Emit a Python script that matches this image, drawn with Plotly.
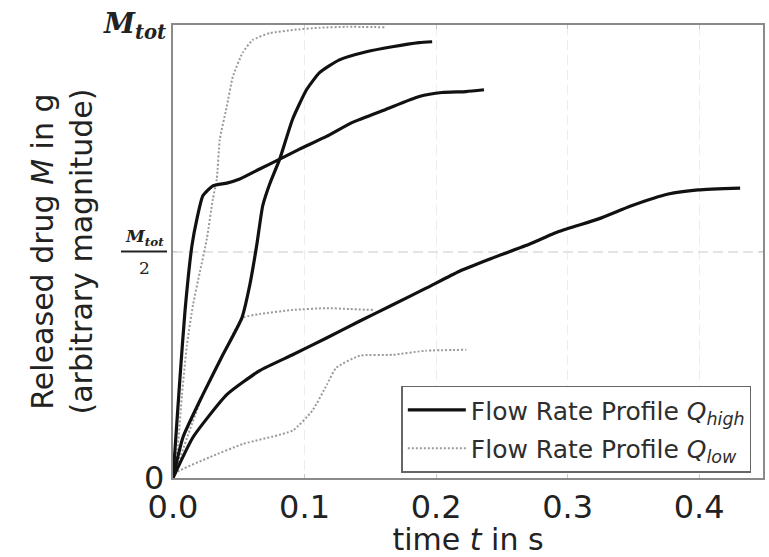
import plotly.graph_objects as go

# ---- data (t in s, M as fraction of M_tot) ----
high_a_t = [0, 0.0053, 0.0091, 0.0144, 0.0182, 0.0227, 0.0303, 0.0409, 0.0508, 0.0659, 0.0811,
            0.0962, 0.1167, 0.1364, 0.1621, 0.1871, 0.2045, 0.2227, 0.2364]
high_a_m = [0, 0.221, 0.368, 0.513, 0.572, 0.623, 0.645, 0.651, 0.660, 0.682, 0.704,
            0.726, 0.754, 0.785, 0.814, 0.842, 0.851, 0.853, 0.857]

high_b_t = [0, 0.0076, 0.0227, 0.0379, 0.0523, 0.0583, 0.0636, 0.0682, 0.0735, 0.0811, 0.0909,
            0.1015, 0.1114, 0.1265, 0.1470, 0.1667, 0.1871, 0.1970]
high_b_m = [0, 0.090, 0.184, 0.272, 0.353, 0.425, 0.513, 0.601, 0.649, 0.704, 0.792,
            0.857, 0.895, 0.923, 0.941, 0.952, 0.961, 0.963]

high_c_t = [0, 0.0152, 0.0409, 0.0659, 0.0909, 0.1167, 0.1417, 0.1667, 0.1924, 0.2174, 0.2424,
            0.2682, 0.2932, 0.3235, 0.3485, 0.3765, 0.3992, 0.4311]
high_c_m = [0, 0.090, 0.184, 0.237, 0.272, 0.309, 0.346, 0.382, 0.419, 0.456, 0.485,
            0.513, 0.544, 0.572, 0.601, 0.627, 0.636, 0.640]

low_a_t = [0, 0.0038, 0.0068, 0.0106, 0.0152, 0.0205, 0.0258, 0.0303, 0.0333, 0.0356, 0.0409,
           0.0455, 0.0530, 0.0606, 0.0735, 0.0909, 0.1114, 0.1318, 0.1621]
low_a_m = [0, 0.075, 0.184, 0.294, 0.382, 0.456, 0.529, 0.616, 0.660, 0.748, 0.820,
           0.886, 0.939, 0.967, 0.982, 0.989, 0.994, 0.996, 0.995]

low_b_t = [0, 0.0227, 0.0379, 0.0530, 0.0660, 0.0910, 0.1170, 0.1340, 0.1520]
low_b_m = [0, 0.184, 0.272, 0.353, 0.362, 0.371, 0.375, 0.373, 0.371]

low_c_t = [0, 0.003, 0.028, 0.053, 0.091, 0.106, 0.117, 0.124, 0.142, 0.167, 0.192, 0.223]
low_c_m = [0, 0.013, 0.046, 0.075, 0.105, 0.149, 0.206, 0.243, 0.270, 0.272, 0.281, 0.283]

x_ticks = [0.0, 0.1, 0.2, 0.3, 0.4]
x_tick_labels = ["0.0", "0.1", "0.2", "0.3", "0.4"]
y_ticks = [0, 0.5, 1]

FONT = "DejaVu Sans"
SERIF = "DejaVu Serif"
HIGH_NAME = "Flow Rate Profile <i>Q</i><sub><i>high</i></sub>"
LOW_NAME = "Flow Rate Profile <i>Q</i><sub><i>low</i></sub>"

fig = go.Figure()

low_sets = [(low_a_t, low_a_m), (low_b_t, low_b_m), (low_c_t, low_c_m)]
high_sets = [(high_a_t, high_a_m), (high_b_t, high_b_m), (high_c_t, high_c_m)]

for i, (t, m) in enumerate(low_sets):
    fig.add_trace(go.Scatter(
        x=t, y=m, mode="lines", name=LOW_NAME, legendgroup="low",
        showlegend=(i == 0), legendrank=2,
        line=dict(color="#9a9a9a", width=2, dash="2px,2px", shape="spline", smoothing=0.5),
    ))
for i, (t, m) in enumerate(high_sets):
    fig.add_trace(go.Scatter(
        x=t, y=m, mode="lines", name=HIGH_NAME, legendgroup="high",
        showlegend=(i == 0), legendrank=1,
        line=dict(color="#111111", width=3.2, shape="spline", smoothing=0.5),
    ))

fig.update_layout(
    width=769, height=557,
    margin=dict(l=173, r=4, t=25, b=76),
    paper_bgcolor="white", plot_bgcolor="white",
    font=dict(family=FONT, color="#222222"),
    showlegend=True,
    legend=dict(
        x=0.387, y=0.204, xanchor="left", yanchor="top",
        bgcolor="white", bordercolor="#666666", borderwidth=1.5,
        font=dict(family=FONT, size=25, color="#2e2e2e"),
        traceorder="grouped", tracegroupgap=3, itemwidth=58,
    ),
    xaxis=dict(
        range=[0, 0.4485], tickvals=x_ticks, ticktext=x_tick_labels,
        tickfont=dict(family=FONT, size=32, color="#222222"),
        showline=True, linecolor="#8a8a8a", linewidth=2, mirror="ticks",
        showgrid=True, gridcolor="#ededed", griddash="10px,5px", gridwidth=1.2,
        ticks="inside", ticklen=4, tickcolor="#c8c8c8",
        zeroline=False,
        title=dict(text="time <i>t</i> in s", font=dict(family=FONT, size=30, color="#222222"), standoff=6),
    ),
    yaxis=dict(
        range=[0, 1], tickvals=y_ticks, showticklabels=False,
        showline=True, linecolor="#8a8a8a", linewidth=2, mirror="ticks",
        showgrid=True, gridcolor="#e4e4e4", griddash="10px,5px", gridwidth=1.5,
        ticks="inside", ticklen=4, tickcolor="#c8c8c8", zeroline=False,
    ),
)

# y tick labels and y title as text annotations
fig.add_annotation(xref="paper", yref="y", x=0, y=1, xanchor="right", yanchor="middle",
                   xshift=-5, showarrow=False,
                   text="<b><i>M</i></b><sub><b><i>tot</i></b></sub>",
                   font=dict(family=SERIF, size=28, color="#222222"))
fig.add_annotation(xref="paper", yref="y", x=0, y=0.5, xanchor="center", yanchor="middle",
                   xshift=-29, yshift=14, showarrow=False,
                   text="<b><i>M</i></b><sub><b><i>tot</i></b></sub>",
                   font=dict(family=SERIF, size=17, color="#222222"))
fig.add_annotation(xref="paper", yref="y", x=0, y=0.5, xanchor="center", yanchor="middle",
                   xshift=-29, yshift=-16, showarrow=False,
                   text="2", font=dict(family=SERIF, size=17, color="#222222"))
fig.add_shape(type="line", xref="paper", yref="y", xsizemode="pixel", xanchor=0,
              x0=-52, x1=-6, y0=0.5, y1=0.5, line=dict(color="#222222", width=2))
fig.add_annotation(xref="paper", yref="y", x=0, y=0, xanchor="right", yanchor="middle",
                   xshift=-7, showarrow=False,
                   text="0", font=dict(family=FONT, size=32, color="#222222"))
fig.add_annotation(xref="paper", yref="paper", x=0, y=0.5, xanchor="center", yanchor="middle",
                   xshift=-112, showarrow=False, textangle=-90,
                   text="Released drug <i>M</i> in g<br>(arbitrary magnitude)",
                   font=dict(family=FONT, size=30, color="#222222"))

fig.write_html("out.html")
